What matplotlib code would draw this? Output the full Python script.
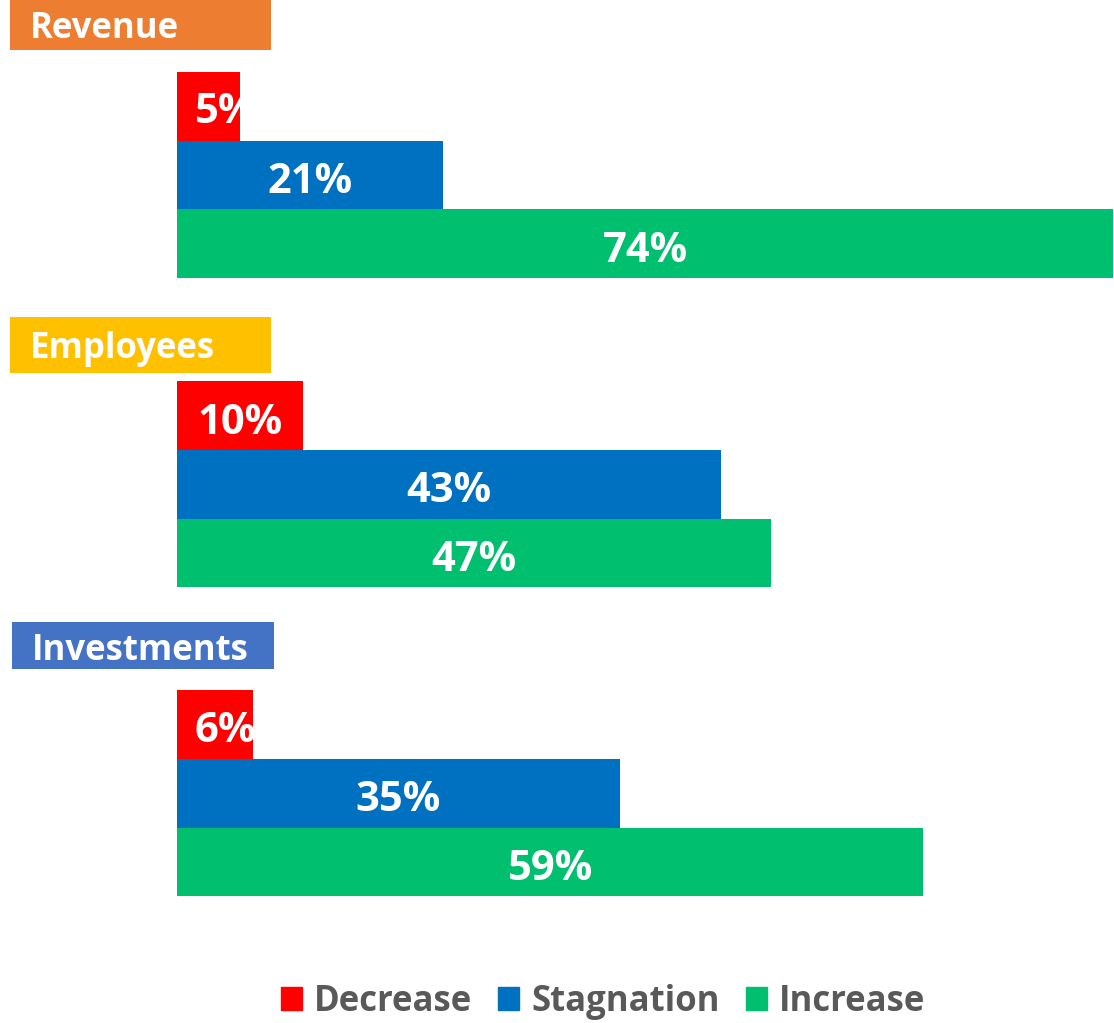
import matplotlib.pyplot as plt
from matplotlib.patches import Rectangle, Patch

# data
groups = ["Revenue", "Employees", "Investments"]
series = ["Decrease", "Stagnation", "Increase"]
decrease = [5, 10, 6]
stagnation = [21, 43, 35]
increase = [74, 47, 59]

bar_colors = ["#FF0000", "#0070C0", "#00BF6F"]
box_colors = ["#ED7D31", "#FFC000", "#4472C4"]

plt.rcParams['font.family'] = ['Open Sans', 'DejaVu Sans']

W, H = 1114, 1023
fig = plt.figure(figsize=(W / 100, H / 100), dpi=100)

# axes spans x=177..1113 px, full height
ax = fig.add_axes([177 / W, 0, (1113 - 177) / W, 1])
ax.set_xlim(0, 74)
gap = 4.5          # group spacing in bar heights
bar_h = 68.7       # px per bar
top = -0.5 - 72 / bar_h
ax.set_ylim(top + H / bar_h, top)
ax.axis('off')

values = [decrease, stagnation, increase]
for i, g in enumerate(groups):
    for j, vals in enumerate(values):
        v = vals[i]
        y = i * gap + j
        bar = ax.barh(y, v, height=1.0, color=bar_colors[j], linewidth=0)[0]
        if v < 8:
            # small bars: label pushed off the left edge, clipped by the bar
            t = ax.annotate(f"{v}%", xy=(0, y), xytext=(18, -17), textcoords='offset pixels',
                            ha='left', va='baseline', color='white', fontsize=30, fontweight='bold')
            t.set_clip_path(bar)
        else:
            ax.annotate(f"{v}%", xy=(v / 2, y), xytext=(0, -18), textcoords='offset pixels',
                        ha='center', va='baseline', color='white', fontsize=30, fontweight='bold')

# category header boxes (pixel positions: left, top, right, bottom, text baseline)
boxes = [(10, -6, 271, 50, 38), (10, 317, 271, 373, 358), (12, 622, 274, 669, 660)]
for g, c, (l, t, r, b, base) in zip(groups, box_colors, boxes):
    fig.patches.append(Rectangle((l / W, 1 - b / H), (r - l) / W, (b - t) / H,
                                 transform=fig.transFigure, color=c, linewidth=0))
    fig.text((l + 20) / W, 1 - base / H, g, ha='left', va='baseline',
             color='white', fontsize=25, fontweight='bold')

handles = [Patch(color=c, label=s) for c, s in zip(bar_colors, series)]
leg = fig.legend(handles=handles, loc='center', bbox_to_anchor=(603 / W, 1 - 1002 / H),
                 ncol=3, frameon=False, fontsize=25, handlelength=0.6, handleheight=0.65,
                 handletextpad=0.35, columnspacing=0.75)
for txt in leg.get_texts():
    txt.set_color('#595959')
    txt.set_fontweight('bold')

fig.savefig('out.png', dpi=100)
